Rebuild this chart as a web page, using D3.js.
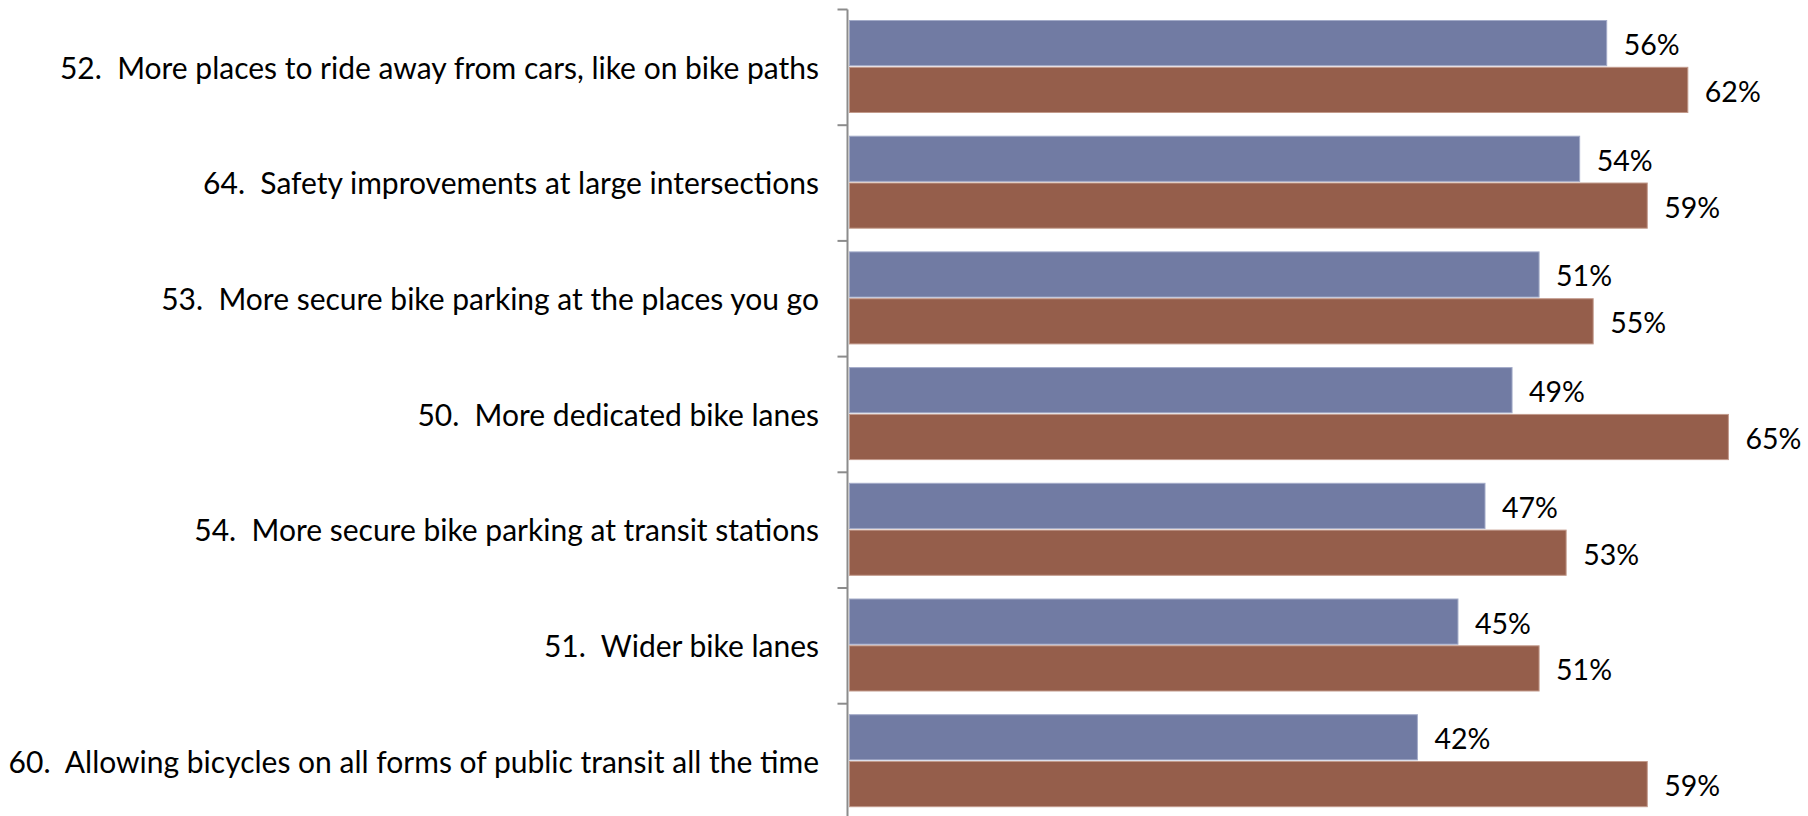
<!DOCTYPE html>
<html>
<head>
<meta charset="utf-8">
<script src="https://cdn.jsdelivr.net/npm/d3@7"></script>
<style>
  html, body { margin: 0; padding: 0; background: #fff; }
  svg { display: block; }
  text { font-family: Lato, "Open Sans", sans-serif; fill: #000; white-space: pre; }
</style>
</head>
<body>
<svg id="chart" width="1808" height="816"></svg>
<script>
const categories = [
  "52.  More places to ride away from cars, like on bike paths",
  "64.  Safety improvements at large intersections",
  "53.  More secure bike parking at the places you go",
  "50.  More dedicated bike lanes",
  "54.  More secure bike parking at transit stations",
  "51.  Wider bike lanes",
  "60.  Allowing bicycles on all forms of public transit all the time"
];
const seriesNames = ["Series 1", "Series 2"];
const series1 = [56, 54, 51, 49, 47, 45, 42];
const series2 = [62, 59, 55, 65, 53, 51, 59];
const colors = ["#717ba3", "#955e4b"];
const strokes = ["#a3abc8", "#c29a8b"];

(function () {
const svg = d3.select("#chart");
const axisX = 847.5;
const plotTop = 9.5, step = 115.7;

const y = d3.scaleBand().domain(categories).range([plotTop, plotTop + step * categories.length]).padding(0);
const ySub = d3.scaleBand().domain(seriesNames).range([11, 103]).paddingInner(0.035);
const x = d3.scaleLinear().domain([0, 70]).range([849.5, 1796]);

const data = categories.map((c, i) => ({ cat: c, vals: [series1[i], series2[i]] }));

const ag = svg.append("g").attr("transform", `translate(${axisX},0)`);
ag.append("line").attr("x1", 0).attr("x2", 0).attr("y1", plotTop).attr("y2", 816)
  .attr("stroke", "#8c8c8c").attr("stroke-width", 2);
const boundaries = categories.map(c => y(c)).concat([y(categories[categories.length-1]) + y.bandwidth()]);
ag.selectAll("line.tick").data(boundaries).join("line").attr("class", "tick")
  .attr("x1", -10).attr("x2", 0).attr("y1", d => d).attr("y2", d => d)
  .attr("stroke", "#8c8c8c").attr("stroke-width", 2);

svg.append("g").selectAll("text").data(categories).join("text")
  .attr("x", 819)
  .attr("y", d => y(d) + 57)
  .attr("text-anchor", "end")
  .attr("dominant-baseline", "central")
  .attr("xml:space", "preserve")
  .style("font-size", "30px")
  .text(d => d);

const groups = svg.append("g").selectAll("g").data(data).join("g")
  .attr("transform", d => `translate(0,${y(d.cat)})`);

groups.selectAll("rect").data(d => d.vals.map((v, j) => ({ v, j }))).join("rect")
  .attr("x", x(0))
  .attr("y", d => ySub(seriesNames[d.j]))
  .attr("width", d => x(d.v) - x(0))
  .attr("height", ySub.bandwidth())
  .attr("fill", d => colors[d.j])
  .attr("stroke", d => strokes[d.j])
  .attr("stroke-width", 1);

groups.selectAll("text").data(d => d.vals.map((v, j) => ({ v, j }))).join("text")
  .attr("x", d => x(d.v) + 17)
  .attr("y", d => ySub(seriesNames[d.j]) + ySub.bandwidth() / 2 + 1)
  .attr("dominant-baseline", "central")
  .style("font-size", "28.5px")
  .text(d => d.v + "%");
})();
</script>
</body>
</html>
